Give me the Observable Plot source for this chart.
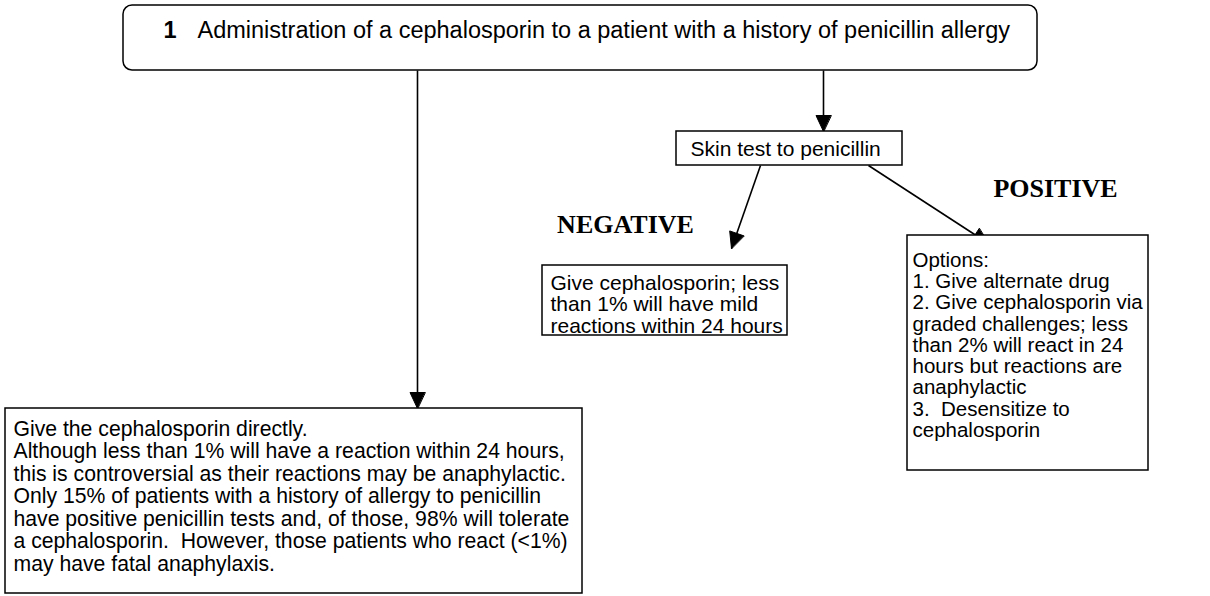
<!DOCTYPE html>
<html>
<head>
<meta charset="utf-8">
<script src="https://cdn.jsdelivr.net/npm/d3@7"></script>
<script src="https://cdn.jsdelivr.net/npm/@observablehq/plot@0.6"></script>
<style>
  html, body { margin: 0; padding: 0; background: #fff; }
  svg { display: block; }
</style>
</head>
<body>
<div id="chart"></div>
<script>
// ---- Flowchart content (node texts) ----
const nodeIds = ["start", "skin", "neg", "pos", "direct"];
const nodeTexts = [
  "Administration of a cephalosporin to a patient with a history of penicillin allergy",
  "Skin test to penicillin",
  "Give cephalosporin; less\nthan 1% will have mild\nreactions within 24 hours",
  "Options:\n1. Give alternate drug\n2. Give cephalosporin via\ngraded challenges; less\nthan 2% will react in 24\nhours but reactions are\nanaphylactic\n3.  Desensitize to\ncephalosporin",
  "Give the cephalosporin directly.\nAlthough less than 1% will have a reaction within 24 hours,\nthis is controversial as their reactions may be anaphylactic.\nOnly 15% of patients with a history of allergy to penicillin\nhave positive penicillin tests and, of those, 98% will tolerate\na cephalosporin.  However, those patients who react (<1%)\nmay have fatal anaphylaxis."
];
const stepNumber = "1";

// ---- layout (diagram units) ----
const nodeX1 = [123, 676, 542, 907, 5];
const nodeY1 = [5, 131, 265, 235, 408];
const nodeX2 = [1037, 902, 787, 1148, 582];
const nodeY2 = [70, 165, 335, 470, 593];
const edgeFromX = [417, 823, 760, 868];
const edgeFromY = [70, 70, 165, 165];
const edgeToX = [417, 823, 731, 988];
const edgeToY = [408, 131, 248, 243];
const branchLabels = ["NEGATIVE", "POSITIVE"];
const branchX = [625, 1055];
const branchY = [224, 188];

// text styling per node
const padX = [74, 14, 8, 5, 8];
const padY = [15.5, 10, 9, 16.5, 11.5];
const fontSizes = [23.5, 21, 21, 20.5, 21.2];
const lineHeights = [1, 1, 1.02, 1.035, 1.06];

// ---- build tables ----
const nodes = nodeIds.map((id, i) => ({
  id, text: nodeTexts[i],
  x1: nodeX1[i], y1: nodeY1[i], x2: nodeX2[i], y2: nodeY2[i],
  tx: nodeX1[i] + padX[i], ty: nodeY1[i] + padY[i],
  fs: fontSizes[i], lh: lineHeights[i]
}));
const edges = edgeFromX.map((_, i) => ({
  x1: edgeFromX[i], y1: edgeFromY[i], x2: edgeToX[i], y2: edgeToY[i], i
}));
const heads = [];
for (const e of edges) {
  const dx = e.x2 - e.x1, dy = e.y2 - e.y1, L = Math.hypot(dx, dy);
  const ux = dx / L, uy = dy / L, nx = -uy, ny = ux;
  const len = 16, hw = 7.5;
  heads.push({x: e.x2, y: e.y2, k: e.i});
  heads.push({x: e.x2 - len * ux + hw * nx, y: e.y2 - len * uy + hw * ny, k: e.i});
  heads.push({x: e.x2 - len * ux - hw * nx, y: e.y2 - len * uy - hw * ny, k: e.i});
}
const branches = branchLabels.map((t, i) => ({t, x: branchX[i], y: branchY[i]}));

const startNode = nodes[0];
const font = "'Liberation Sans', Arial, sans-serif";

const textMarks = nodes.map(n => Plot.text([n], {
  x: "tx", y: "ty", text: "text", textAnchor: "start", lineAnchor: "top",
  fontSize: n.fs, lineHeight: n.lh, fontFamily: font, fill: "#000"
}));

const chart = Plot.plot({
  width: 1210,
  height: 596,
  margin: 0,
  x: {domain: [0, 1210], range: [0, 1210], axis: null},
  y: {domain: [0, 596], range: [0, 596], axis: null},
  style: {background: "#fff"},
  marks: [
    Plot.link(edges, {x1: "x1", y1: "y1", x2: "x2", y2: "y2", stroke: "#000", strokeWidth: 1.6}),
    Plot.line(heads, {x: "x", y: "y", z: "k", fill: "#000", stroke: "#000", strokeWidth: 1, curve: "linear-closed"}),
    Plot.rect([startNode], {x1: "x1", y1: "y1", x2: "x2", y2: "y2", fill: "#fff", stroke: "#000", strokeWidth: 1.5, rx: 9}),
    Plot.rect(nodes.slice(1), {x1: "x1", y1: "y1", x2: "x2", y2: "y2", fill: "#fff", stroke: "#000", strokeWidth: 1.5}),
    Plot.text([startNode], {x: d => d.x1 + 40, y: "ty", text: () => stepNumber, textAnchor: "start", lineAnchor: "top", fontSize: 23.5, fontWeight: "bold", fontFamily: font, fill: "#000"}),
    ...textMarks,
    Plot.text(branches, {x: "x", y: "y", text: "t", textAnchor: "middle", lineAnchor: "middle", fontSize: 26, fontWeight: "bold", fontFamily: "'Liberation Serif', 'Times New Roman', serif", fill: "#000"})
  ]
});
document.getElementById("chart").appendChild(chart);
</script>
</body>
</html>
